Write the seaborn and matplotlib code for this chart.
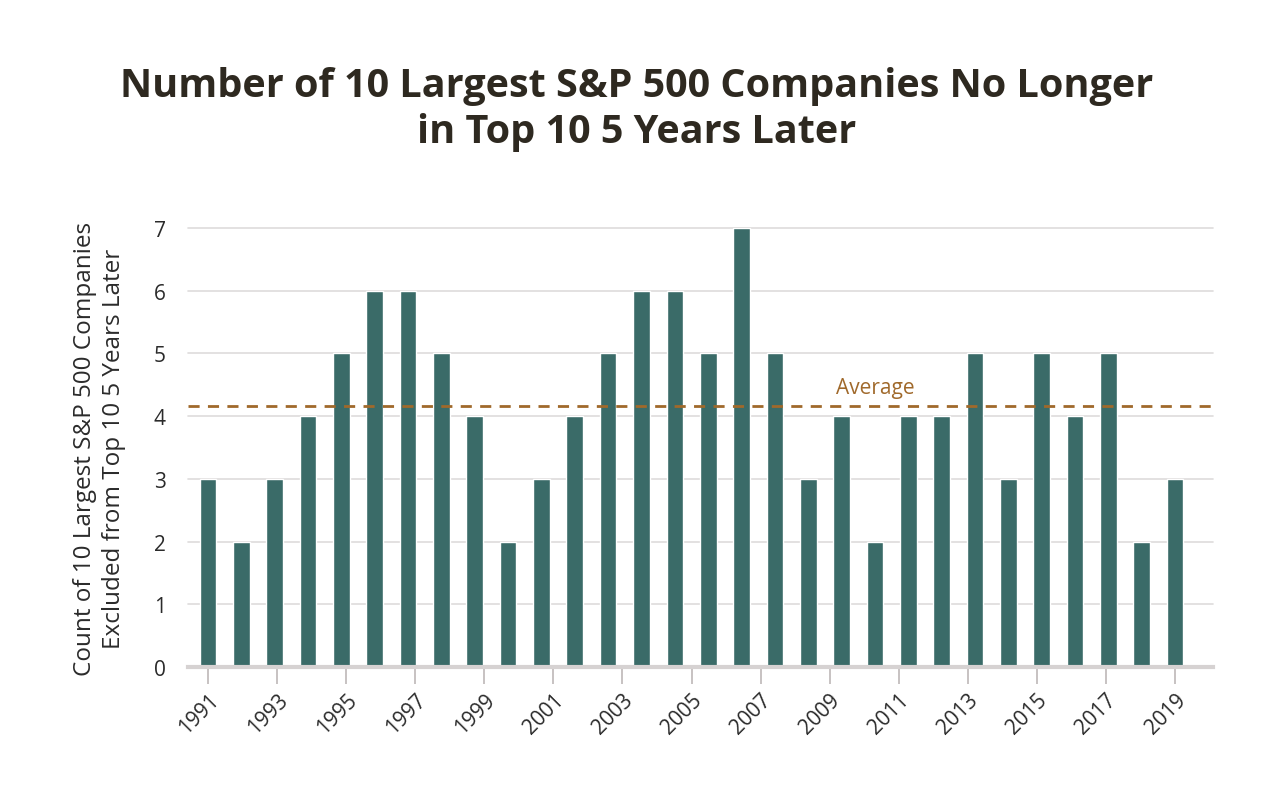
import numpy as np
import pandas as pd
import matplotlib
matplotlib.use("Agg")
import matplotlib.pyplot as plt
import seaborn as sns

# ---------------------------------------------------------------------------
# Data
# ---------------------------------------------------------------------------
BAR_IDS = list(range(30))
COUNTS = [3, 2, 3, 4, 5, 6, 6, 5, 4, 2,
          3, 4, 5, 6, 6, 5, 7, 5, 3, 4,
          2, 4, 4, 5, 3, 5, 4, 5, 2, 3]
TICK_LABELS = [str(y) for y in range(1991, 2020, 2)]
Y_TICKS = [0, 1, 2, 3, 4, 5, 6, 7]

TITLE = "Number of 10 Largest S&P 500 Companies No Longer\nin Top 10 5 Years Later"
YLABEL = "Count of 10 Largest S&P 500 Companies\nExcluded from Top 10 5 Years Later"

BAR_COLOR = "#3a6b68"
AVG_COLOR = "#a0692b"
TEXT_COLOR = "#2b2b2b"
TITLE_COLOR = "#2e2920"
GRID_COLOR = "#dedcdc"

sns.set_theme(style="white")
plt.rcParams["font.family"] = ["Open Sans", "DejaVu Sans"]

df = pd.DataFrame({"bar": BAR_IDS, "count": COUNTS})

fig = plt.figure(figsize=(12.74, 8.12), dpi=100)
ax = fig.add_axes([0.1476, 0.1773, 0.8045, 0.5407])

sns.barplot(data=df, x="bar", y="count", color=BAR_COLOR, saturation=1,
            width=0.5, ax=ax, zorder=3)

# dashed average line across the whole plot
avg = float(np.mean(COUNTS))
ax.axhline(avg, color=AVG_COLOR, linestyle=(0, (4, 3)), linewidth=2, zorder=4)
ax.text(20.0, avg + 0.13, "Average", color=AVG_COLOR, fontsize=15,
        ha="center", va="bottom")

ax.set_xlim(-0.6, 30.14)
ax.set_ylim(0, 7)
ax.set_yticks(Y_TICKS)
ax.set_yticklabels([str(t) for t in Y_TICKS])
ax.set_xticks(np.linspace(0, 29, len(TICK_LABELS)))
ax.set_xticklabels(TICK_LABELS, rotation=45, ha="right", rotation_mode="anchor")

for y in Y_TICKS[1:]:
    ax.axhline(y, color=GRID_COLOR, linewidth=1.2, zorder=1, clip_on=False)

for side in ["top", "right", "left"]:
    ax.spines[side].set_visible(False)
ax.spines["bottom"].set_color("#d6d2d2")
ax.spines["bottom"].set_linewidth(3)
ax.spines["bottom"].set_zorder(5)

ax.tick_params(axis="x", bottom=True, length=12, width=1.2, color="#bdb8b8",
               labelsize=15, labelcolor=TEXT_COLOR, pad=4)
ax.tick_params(axis="y", left=False, labelsize=15, labelcolor=TEXT_COLOR, pad=10)

ax.set_xlabel(None)
ax.set_ylabel(YLABEL, fontsize=17.5, color=TEXT_COLOR, labelpad=20, linespacing=1.3)

fig.text(0.5, 0.865, TITLE, ha="center", va="center", fontsize=28.5,
         fontweight="bold", color=TITLE_COLOR, linespacing=1.25)

fig.savefig("out.png", dpi=100, facecolor="white")
